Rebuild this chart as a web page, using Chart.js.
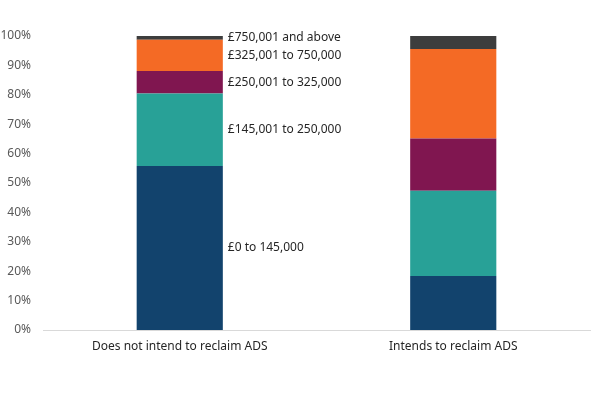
<!DOCTYPE html>
<html>
<head>
<meta charset="utf-8">
<script src="https://cdn.jsdelivr.net/npm/chart.js@4"></script>
<style>
  html, body { margin: 0; padding: 0; background: #fff; }
  #wrap { width: 602px; height: 393px; }
</style>
</head>
<body>
<div id="wrap"><canvas id="chart"></canvas></div>
<script>
// Data (percent of each group)
const categories = ["Does not intend to reclaim ADS", "Intends to reclaim ADS"];
const bandLabels = ["£0 to 145,000", "£145,001 to 250,000", "£250,001 to 325,000", "£325,001 to 750,000", "£750,001 and above"];
const band0to145 = [55.8, 18.4];
const band145to250 = [24.6, 29.0];
const band250to325 = [7.7, 17.7];
const band325to750 = [10.6, 30.5];
const band750plus = [1.3, 4.4];
const yTicks = [0, 10, 20, 30, 40, 50, 60, 70, 80, 90, 100];

const COLORS = ["#12436D", "#28A197", "#801650", "#F46A25", "#3D3D3D"];
const FONT = "'Noto Sans', 'Open Sans', sans-serif";

const series = [band0to145, band145to250, band250to325, band325to750, band750plus];

// labels next to the first bar, at each segment's middle
const sideLabels = {
  id: "sideLabels",
  afterDatasetsDraw(chart) {
    const ctx = chart.ctx;
    ctx.save();
    ctx.font = "12px " + FONT;
    ctx.fillStyle = "#262626";
    ctx.textAlign = "left";
    ctx.textBaseline = "middle";
    chart.data.datasets.forEach((ds, i) => {
      const bar = chart.getDatasetMeta(i).data[0];
      const yMid = (bar.y + bar.base) / 2;
      ctx.fillText(ds.label, bar.x + bar.width / 2 + 5, yMid);
    });
    ctx.restore();
  },
};

new Chart(document.getElementById("chart"), {
  type: "bar",
  data: {
    labels: categories,
    datasets: series.map((vals, i) => ({
      label: bandLabels[i],
      data: vals,
      backgroundColor: COLORS[i],
      borderWidth: 0,
      categoryPercentage: 1,
      barPercentage: 0.315,
    })),
  },
  options: {
    responsive: true,
    maintainAspectRatio: false,
    animation: false,
    layout: { padding: { top: 36, right: 12, left: 0, bottom: 0 } },
    plugins: { legend: { display: false }, tooltip: { enabled: false } },
    scales: {
      x: {
        stacked: true,
        grid: { display: false, drawTicks: false },
        border: { color: "#d9d9d9", width: 1 },
        ticks: { color: "#262626", font: { family: FONT, size: 12 }, padding: 9 },
        afterFit: (s) => { s.height = 63; },
      },
      y: {
        stacked: true,
        min: 0,
        max: 100,
        afterBuildTicks: (s) => { s.ticks = yTicks.map((v) => ({ value: v })); },
        grid: { display: false, drawTicks: false },
        border: { display: false },
        ticks: { color: "#595959", font: { family: FONT, size: 12 }, padding: 12, callback: (v) => v + "%" },
        afterFit: (s) => { s.width = 43; },
      },
    },
  },
  plugins: [sideLabels],
});
</script>
</body>
</html>
